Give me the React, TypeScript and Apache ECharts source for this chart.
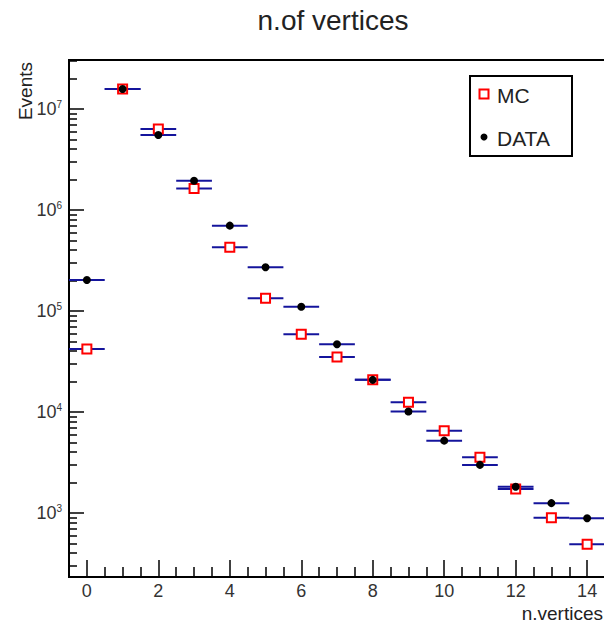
import React, { useEffect, useRef } from "react";
import * as echarts from "echarts";

const bins = [0, 1, 2, 3, 4, 5, 6, 7, 8, 9, 10, 11, 12, 13, 14];
const mcValues = [4.21e4, 1.58e7, 6.34e6, 1.63e6, 4.28e5, 1.34e5, 5.87e4, 3.51e4, 2.08e4, 1.25e4, 6.53e3, 3.55e3, 1.73e3, 897, 490];
const dataValues = [2.03e5, 1.58e7, 5.53e6, 1.95e6, 7.0e5, 2.71e5, 1.1e5, 4.68e4, 2.08e4, 1.01e4, 5.2e3, 2.99e3, 1.82e3, 1.25e3, 886];
const binHalfWidth = 0.5;
const xRange = [-0.5, 14.5];
const yRange = [232, 3.06e7];
const xMajorTicks = [0, 2, 4, 6, 8, 10, 12, 14];
const xMinorTicks = [0.5, 1, 1.5, 2.5, 3, 3.5, 4.5, 5, 5.5, 6.5, 7, 7.5, 8.5, 9, 9.5, 10.5, 11, 11.5, 12.5, 13, 13.5];
const yDecadeExponents = [3, 4, 5, 6, 7];
const yMinorMultipliers = [2, 3, 4, 5, 6, 7, 8, 9];
const yMinorDecades = [2, 3, 4, 5, 6, 7];

const FONT = "'Liberation Sans', Arial, Helvetica, sans-serif";
const BLUE = "#14149c";

export default function App() {
  const ref = useRef<HTMLDivElement>(null);
  useEffect(() => {
    document.body.style.margin = "0";
    if (!ref.current) return;
    const chart = echarts.init(ref.current, undefined, { renderer: "svg" });
    const lg = (v: number) => Math.log10(v);
    const yMinL = lg(yRange[0]);
    const yMaxL = lg(yRange[1]);
    const yMinor: number[] = [];
    yMinorDecades.forEach((d) =>
      yMinorMultipliers.forEach((m) => {
        const v = lg(m * Math.pow(10, d));
        if (v > yMinL && v < yMaxL) yMinor.push(v);
      })
    );
    const mcPts = bins.map((b, i) => [b, lg(mcValues[i])]);
    const dataPts = bins.map((b, i) => [b, lg(dataValues[i])]);

    const errRender = (params: any, api: any) => {
      const x = api.value(0);
      const y = api.value(1);
      const p1 = api.coord([x - binHalfWidth, y]);
      const p2 = api.coord([x + binHalfWidth, y]);
      return {
        type: "line",
        shape: { x1: p1[0], y1: p1[1], x2: p2[0], y2: p2[1] },
        style: { stroke: BLUE, lineWidth: 2 },
      };
    };

    const grid = { left: 69, top: 60, width: 536, height: 517, show: true, borderColor: "#000", borderWidth: 2, backgroundColor: "transparent", containLabel: false, outerBoundsMode: "none" } as any;

    chart.setOption({
      animation: false,
      title: {
        text: "n.of vertices",
        left: 333,
        top: 6,
        padding: 0,
        textAlign: "center",
        textStyle: { fontFamily: FONT, fontSize: 28, fontWeight: "normal", color: "#222" },
      },
      grid,
      xAxis: [
        {
          type: "value",
          min: xRange[0],
          max: xRange[1],
          position: "bottom",
          axisLine: { show: true, onZero: false, lineStyle: { color: "#000", width: 2 } },
          axisTick: { show: true, inside: true, length: 17, customValues: xMajorTicks, lineStyle: { color: "#000", width: 1.5 } },
          axisLabel: { show: true, customValues: xMajorTicks, margin: 5, fontFamily: FONT, fontSize: 18, color: "#333" },
          splitLine: { show: false },
        },
        {
          type: "value",
          min: xRange[0],
          max: xRange[1],
          position: "bottom",
          offset: 0,
          axisLine: { show: false, onZero: false },
          axisTick: { show: true, inside: true, length: 10, customValues: xMinorTicks, lineStyle: { color: "#000", width: 1.5 } },
          axisLabel: { show: false },
          splitLine: { show: false },
        },
      ],
      yAxis: [
        {
          type: "value",
          min: yMinL,
          max: yMaxL,
          position: "left",
          axisLine: { show: true, onZero: false, lineStyle: { color: "#000", width: 2 } },
          axisTick: { show: true, inside: true, length: 15, customValues: yDecadeExponents, lineStyle: { color: "#000", width: 1.5 } },
          axisLabel: {
            show: true,
            customValues: yDecadeExponents,
            margin: 7,
            formatter: (v: number) => `{b|10}{s|${Math.round(v)}}`,
            rich: {
              b: { fontFamily: FONT, fontSize: 18, color: "#333", lineHeight: 19 },
              s: { fontFamily: FONT, fontSize: 10, color: "#333", verticalAlign: "top", lineHeight: 10 },
            },
          },
          splitLine: { show: false },
        },
        {
          type: "value",
          min: yMinL,
          max: yMaxL,
          position: "left",
          offset: 0,
          axisLine: { show: false, onZero: false },
          axisTick: { show: true, inside: true, length: 8, customValues: yMinor, lineStyle: { color: "#000", width: 1.5 } },
          axisLabel: { show: false },
          splitLine: { show: false },
        },
      ],
      graphic: [
        {
          type: "text",
          x: 25,
          y: 62,
          rotation: Math.PI / 2,
          style: { text: "Events", fontFamily: FONT, fontSize: 19, fill: "#222", align: "right", verticalAlign: "middle" },
        },
        {
          type: "text",
          x: 603,
          y: 613,
          style: { text: "n.vertices", fontFamily: FONT, fontSize: 19, fill: "#222", align: "right", verticalAlign: "middle" },
        },
        {
          type: "group",
          z: 100,
          children: [
            { type: "rect", shape: { x: 470, y: 76, width: 102, height: 80 }, style: { fill: "#fff", stroke: "#000", lineWidth: 2 } },
            { type: "rect", shape: { x: 479.5, y: 89.5, width: 9, height: 9 }, style: { fill: "#fff", stroke: "#ff0000", lineWidth: 2 } },
            { type: "text", x: 497, y: 95, style: { text: "MC", fontFamily: FONT, fontSize: 21, fill: "#222", align: "left", verticalAlign: "middle" } },
            { type: "circle", shape: { cx: 484, cy: 137, r: 3.5 }, style: { fill: "#000" } },
            { type: "text", x: 497, y: 138, style: { text: "DATA", fontFamily: FONT, fontSize: 21, fill: "#222", align: "left", verticalAlign: "middle" } },
          ],
        },
      ],
      series: [
        { name: "MC err", type: "custom", renderItem: errRender, data: mcPts, encode: { x: 0, y: 1 }, z: 1, clip: true },
        { name: "DATA err", type: "custom", renderItem: errRender, data: dataPts, encode: { x: 0, y: 1 }, z: 1, clip: true },
        {
          name: "MC",
          type: "scatter",
          data: mcPts,
          symbol: "rect",
          symbolSize: 9,
          itemStyle: { color: "#fff", borderColor: "#ff0000", borderWidth: 2, opacity: 1 },
          z: 2,
        },
        {
          name: "DATA",
          type: "scatter",
          data: dataPts,
          symbol: "circle",
          symbolSize: 8,
          itemStyle: { color: "#000", opacity: 1 },
          z: 3,
        },
      ],
    });
    return () => chart.dispose();
  }, []);
  return <div ref={ref} style={{ position: "absolute", left: 0, top: 0, width: 604, height: 623 }} />;
}
